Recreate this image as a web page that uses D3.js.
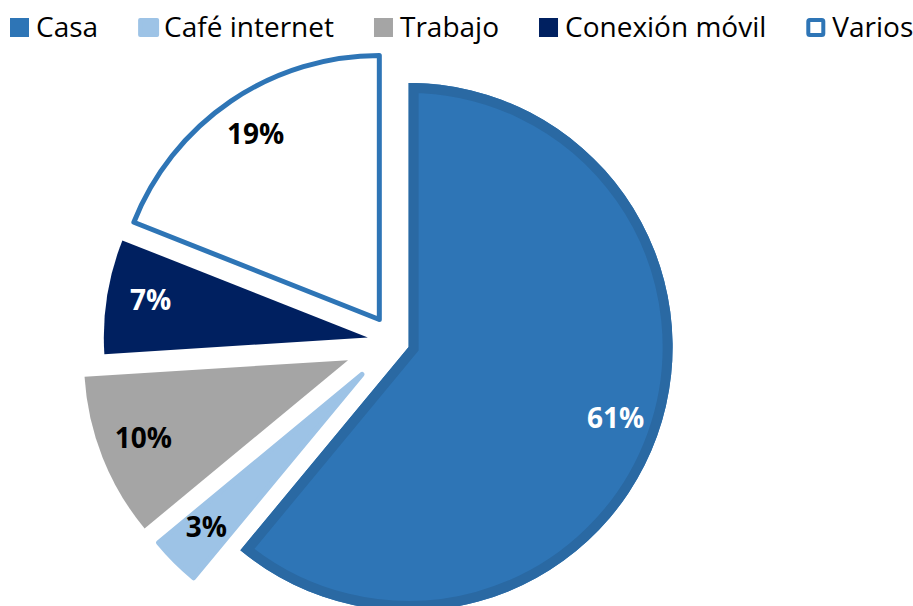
<!DOCTYPE html>
<html>
<head>
<meta charset="utf-8">
<script src="https://cdn.jsdelivr.net/npm/d3@7"></script>
<style>
  body { margin: 0; background: #fff; }
  text { font-family: "Open Sans", sans-serif; }
</style>
</head>
<body>
<script>
// data
var categories = ["Casa", "Café internet", "Trabajo", "Conexión móvil", "Varios"];
var values = [61, 3, 10, 7, 19];

// styles
var colors = ["#2e75b6", "#9dc3e6", "#a5a5a5", "#002060", "#ffffff"];
var labelColors = ["#ffffff", "#000000", "#000000", "#ffffff", "#000000"];
var explode = [15, 46, 50, 27, 27];

var w = 913, h = 606;
var cx = 394.5, cy = 341.8, r = 264;

var svg = d3.select("body")
    .append("svg")
    .attr("width", w)
    .attr("height", h);

var pie = d3.pie().sort(null).value(function (d) { return d; });
var arcs = pie(values);

var arc = d3.arc().innerRadius(0).outerRadius(r);
var labelArc = d3.arc().innerRadius(220).outerRadius(220);

svg.append("defs").append("clipPath")
    .attr("id", "casaClip")
    .append("path")
    .attr("d", arc(arcs[0]));

var slices = svg.selectAll("g.slice")
    .data(arcs)
    .enter()
    .append("g")
    .attr("class", "slice")
    .attr("transform", function (d, i) {
        var mid = (d.startAngle + d.endAngle) / 2;
        return "translate(" + (cx + explode[i] * Math.sin(mid)) + "," + (cy - explode[i] * Math.cos(mid)) + ")";
    });

slices.append("path")
    .attr("d", arc)
    .attr("fill", function (d, i) { return colors[i]; })
    .attr("stroke", function (d, i) {
        if (i === 1) return colors[1];
        if (i === 4) return "#2e75b6";
        return "none";
    })
    .attr("stroke-width", 5)
    .attr("stroke-linejoin", "round");

// darker inner rim on Casa
slices.filter(function (d, i) { return i === 0; })
    .append("path")
    .attr("d", arc)
    .attr("fill", "none")
    .attr("stroke", "#2a69a3")
    .attr("stroke-width", 20)
    .attr("clip-path", "url(#casaClip)");

slices.append("text")
    .attr("transform", function (d) { return "translate(" + labelArc.centroid(d) + ")"; })
    .attr("text-anchor", "middle")
    .attr("dy", "0.24em")
    .attr("font-size", 28)
    .attr("font-weight", "bold")
    .attr("fill", function (d, i) { return labelColors[i]; })
    .text(function (d, i) { return values[i] + "%"; });

// legend
var legend = svg.append("g");
var x = 10;
categories.forEach(function (c, i) {
    var g = legend.append("g").attr("transform", "translate(" + x + ",0)");
    var box = g.append("rect")
        .attr("y", 18)
        .attr("width", 19)
        .attr("height", 19)
        .attr("fill", colors[i]);
    if (i === 1) {
        box.attr("x", 2).attr("y", 20).attr("width", 17).attr("height", 15)
            .attr("stroke", colors[1]).attr("stroke-width", 4).attr("stroke-linejoin", "round");
    }
    if (i === 4) {
        box.attr("x", 2).attr("y", 20).attr("width", 15).attr("height", 15)
            .attr("stroke", "#2e75b6").attr("stroke-width", 4).attr("rx", 1.5);
    }
    var t = g.append("text")
        .attr("x", 26)
        .attr("y", 37)
        .attr("font-size", 28)
        .attr("fill", "#000")
        .text(c);
    x += 26 + t.node().getComputedTextLength() + 40;
});
</script>
</body>
</html>
